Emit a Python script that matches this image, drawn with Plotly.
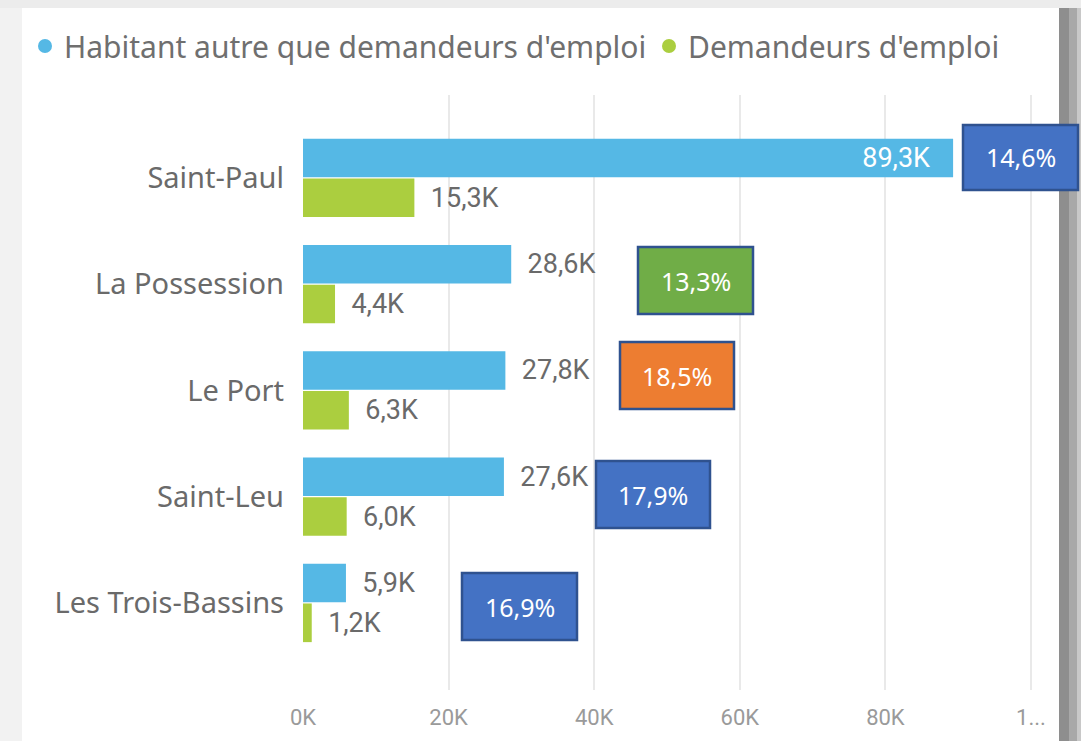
import plotly.graph_objects as go

# ---------------- data ----------------
communes = ["Saint-Paul", "La Possession", "Le Port", "Saint-Leu", "Les Trois-Bassins"]
habitants = [89300, 28600, 27800, 27600, 5900]
demandeurs = [15300, 4400, 6300, 6000, 1200]
taux = ["14,6%", "13,3%", "18,5%", "17,9%", "16,9%"]
taux_colors = ["#4472C4", "#70AD47", "#ED7D31", "#4472C4", "#4472C4"]
tick_vals = [0, 20000, 40000, 60000, 80000, 100000]
tick_text = ["0K", "20K", "40K", "60K", "80K", "1..."]
series_names = ["Habitant autre que demandeurs d'emploi", "Demandeurs d'emploi"]
series_colors = ["#55B8E5", "#ABCE3F"]

NB = "\u00a0"


def fmt(v):
    return f"{v/1000:.1f}K".replace(".", ",")


W, H = 1081, 741
L, R, T, B = 303, 46, 95, 51
PW, PH = W - L - R, H - T - B


def px(x):
    return (x - L) / PW


def py(y):
    return (H - B - y) / PH


fig = go.Figure()

hab_inside = [v > 60000 for v in habitants]
hab_pos = ["inside" if i else "outside" for i in hab_inside]
hab_text = [fmt(v) + NB * 3 if i else NB * 2 + fmt(v) for v, i in zip(habitants, hab_inside)]
fig.add_trace(go.Bar(
    y=communes, x=habitants, orientation="h", name=series_names[0],
    marker=dict(color=series_colors[0], line=dict(width=0)),
    text=hab_text, textposition=hab_pos,
    insidetextanchor="end", constraintext="none", cliponaxis=False,
    textfont=dict(family="Roboto", size=27, color="#6a6a6a"),
    insidetextfont=dict(family="Roboto", size=27, color="#ffffff"),
    outsidetextfont=dict(family="Roboto", size=27, color="#6a6a6a"),
    showlegend=False, hoverinfo="x+y",
))
fig.add_trace(go.Bar(
    y=communes, x=demandeurs, orientation="h", name=series_names[1],
    marker=dict(color=series_colors[1], line=dict(width=0)),
    text=[NB * 2 + fmt(v) for v in demandeurs], textposition="outside",
    constraintext="none", cliponaxis=False,
    textfont=dict(family="Roboto", size=27, color="#6a6a6a"),
    showlegend=False, hoverinfo="x+y",
))

shapes = []
annotations = []

# background frame (card shadow)
shapes.append(dict(type="rect", xref="paper", yref="paper", layer="below",
                   x0=px(0), x1=px(22), y0=py(741), y1=py(0),
                   fillcolor="#f2f2f2", line=dict(width=0)))
shapes.append(dict(type="rect", xref="paper", yref="paper", layer="below",
                   x0=px(0), x1=px(1081), y0=py(8), y1=py(0),
                   fillcolor="#ececec", line=dict(width=0)))
for x0, x1, c in [(1059, 1069, "#8e8e8e"), (1069, 1077, "#a8a8a8"), (1077, 1081, "#c8c8c8")]:
    shapes.append(dict(type="rect", xref="paper", yref="paper", layer="below",
                       x0=px(x0), x1=px(x1), y0=py(741), y1=py(8),
                       fillcolor=c, line=dict(width=0)))

# legend (circle markers + text)
legend_items = [(45, 62), (669, 686)]
for (cx, tx), name, col in zip(legend_items, series_names, series_colors):
    shapes.append(dict(type="circle", xref="paper", yref="paper",
                       x0=px(cx - 7), x1=px(cx + 7), y0=py(53), y1=py(39),
                       fillcolor=col, line=dict(width=0)))
    annotations.append(dict(text=name, xref="paper", yref="paper",
                            x=px(tx), y=py(46), xanchor="left", yanchor="middle",
                            showarrow=False,
                            font=dict(family="Noto Sans", size=30, color="#6f6f6f")))

# percentage boxes
boxes = [(963, 1078, 125, 190), (638, 753, 247, 314), (620, 734, 342, 409),
         (596, 710, 461, 528), (462, 577, 573, 640)]
for (x0, x1, y0, y1), t, c in zip(boxes, taux, taux_colors):
    shapes.append(dict(type="rect", xref="paper", yref="paper",
                       x0=px(x0), x1=px(x1), y0=py(y1), y1=py(y0),
                       fillcolor=c, line=dict(color="#2F528F", width=2.5)))
    annotations.append(dict(text=t, xref="paper", yref="paper",
                            x=px((x0 + x1) / 2), y=py((y0 + y1) / 2),
                            xanchor="center", yanchor="middle", showarrow=False,
                            font=dict(family="Noto Sans", size=25, color="#ffffff")))

fig.update_layout(
    width=W, height=H,
    margin=dict(l=L, r=R, t=T, b=B, pad=0),
    paper_bgcolor="#ffffff", plot_bgcolor="#ffffff",
    barmode="group", bargap=0.25, bargroupgap=0.03,
    shapes=shapes, annotations=annotations,
    showlegend=False,
    font=dict(family="Noto Sans", color="#666666"),
)
fig.update_xaxes(
    range=[0, 100550], tickvals=tick_vals, ticktext=tick_text,
    showgrid=True, gridcolor="#e9e9e9", gridwidth=1.5,
    zeroline=False, showline=False, ticks="",
    tickfont=dict(family="Roboto", size=22, color="#9a9a9a"),
    ticklabelstandoff=12,
)
fig.update_yaxes(
    categoryorder="array", categoryarray=communes,
    range=[4.82, -0.78], showgrid=False, zeroline=False, showline=False, ticks="",
    tickfont=dict(family="Noto Sans", size=29, color="#6a6a6a"),
    ticklabelstandoff=18,
)

fig.write_html(
    "out.html",
    config={"displayModeBar": False},
    post_script="document.body.style.margin='0';document.body.style.overflow='hidden';",
)
